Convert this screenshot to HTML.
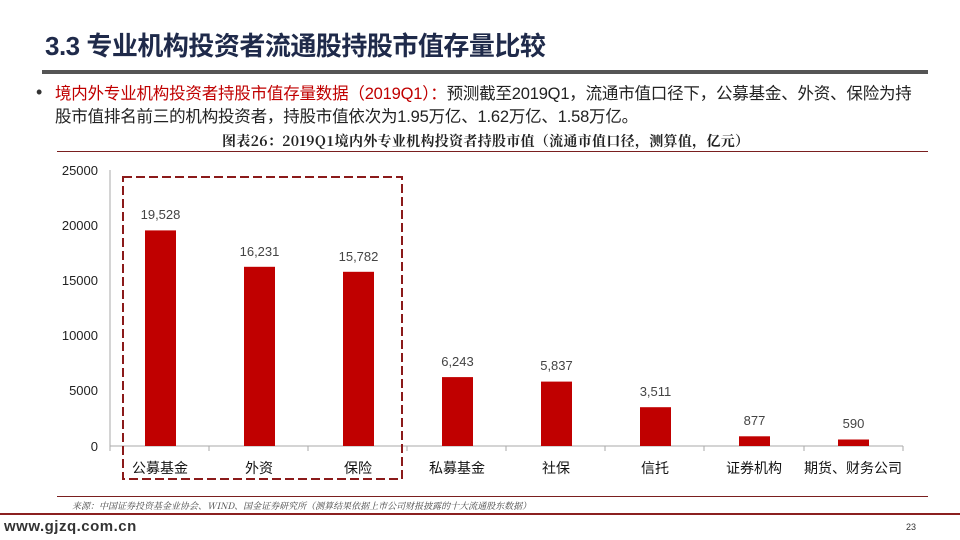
<!DOCTYPE html>
<html><head><meta charset="utf-8"><style>
body{margin:0;width:960px;height:540px;background:#fff;position:relative;overflow:hidden;font-family:"Liberation Sans","Noto Sans CJK SC",sans-serif}
.a{position:absolute;white-space:nowrap}
</style></head><body>
<div class="a" style="left:45px;top:26px;font-size:26px;font-weight:bold;color:#1f2a4a;letter-spacing:-0.5px">3.3 专业机构投资者流通股持股市值存量比较</div>
<div class="a" style="left:42px;top:70px;width:886px;height:4px;background:#555"></div>
<div class="a" style="left:36px;top:82px;font-size:18px;color:#333">•</div>
<div class="a" style="left:55px;top:83px;font-size:16.5px;color:#222;line-height:23px;letter-spacing:-0.2px"><span style="color:#c00000">境内外专业机构投资者持股市值存量数据（2019Q1）：</span>预测截至2019Q1，流通市值口径下，公募基金、外资、保险为持<br>股市值排名前三的机构投资者，持股市值依次为1.95万亿、1.62万亿、1.58万亿。</div>
<div class="a" style="left:222px;top:131px;font-size:14px;font-weight:bold;color:#222;font-family:'Noto Serif CJK SC','Liberation Serif',serif;letter-spacing:0.3px">图表26：2019Q1境内外专业机构投资者持股市值（流通市值口径，测算值，亿元）</div>
<div class="a" style="left:57px;top:151px;width:871px;height:1px;background:#7a1f1f"></div>
<svg class="a" style="left:0;top:0" width="960" height="540" font-family="Liberation Sans, Noto Sans CJK SC, sans-serif">
<g font-size="13" fill="#222" text-anchor="end">
<text x="98" y="175">25000</text><text x="98" y="230">20000</text><text x="98" y="285">15000</text><text x="98" y="340">10000</text><text x="98" y="395">5000</text><text x="98" y="451">0</text>
</g>
<line x1="110" y1="170" x2="110" y2="446" stroke="#aaa"/>
<line x1="110" y1="446" x2="903" y2="446" stroke="#aaa"/>
<g stroke="#aaa">
<line x1="110" y1="446" x2="110" y2="451"/><line x1="209" y1="446" x2="209" y2="451"/><line x1="308" y1="446" x2="308" y2="451"/><line x1="407" y1="446" x2="407" y2="451"/><line x1="506" y1="446" x2="506" y2="451"/><line x1="605" y1="446" x2="605" y2="451"/><line x1="704" y1="446" x2="704" y2="451"/><line x1="804" y1="446" x2="804" y2="451"/><line x1="903" y1="446" x2="903" y2="451"/>
</g>
<g fill="#c00000">
<rect x="145" y="230.4" width="31" height="215.6"/>
<rect x="244" y="266.8" width="31" height="179.2"/>
<rect x="343" y="271.8" width="31" height="174.2"/>
<rect x="442" y="377.1" width="31" height="68.9"/>
<rect x="541" y="381.6" width="31" height="64.4"/>
<rect x="640" y="407.2" width="31" height="38.8"/>
<rect x="739" y="436.3" width="31" height="9.7"/>
<rect x="838" y="439.5" width="31" height="6.5"/>
</g>
<g font-size="13" fill="#444" text-anchor="middle">
<text x="160.5" y="219">19,528</text><text x="259.5" y="256">16,231</text><text x="358.5" y="261">15,782</text><text x="457.5" y="366">6,243</text><text x="556.5" y="370">5,837</text><text x="655.5" y="396">3,511</text><text x="754.5" y="425">877</text><text x="853.5" y="428">590</text>
</g>
<g font-size="14" fill="#111" text-anchor="middle">
<text x="160" y="473">公募基金</text><text x="259" y="473">外资</text><text x="358" y="473">保险</text><text x="457" y="473">私募基金</text><text x="556" y="473">社保</text><text x="655" y="473">信托</text><text x="754" y="473">证券机构</text><text x="853" y="473">期货、财务公司</text>
</g>
<rect x="123" y="177" width="279" height="302" fill="none" stroke="#8b1a1a" stroke-width="2" stroke-dasharray="9,4"/>
</svg>
<div class="a" style="left:57px;top:496px;width:871px;height:1px;background:#7a1f1f"></div>
<div class="a" style="left:72px;top:499px;font-size:9px;font-style:italic;color:#444;font-family:'Noto Serif CJK SC',serif">来源：中国证券投资基金业协会、WIND、国金证券研究所（测算结果依据上市公司财报披露的十大流通股东数据）</div>
<div class="a" style="left:0;top:513px;width:960px;height:2px;background:#8b2020"></div>
<div class="a" style="left:4px;top:518px;font-size:15px;color:#333;font-weight:bold;letter-spacing:0.5px">www.gjzq.com.cn</div>
<div class="a" style="left:906px;top:522px;font-size:9px;color:#333">23</div>
</body></html>
